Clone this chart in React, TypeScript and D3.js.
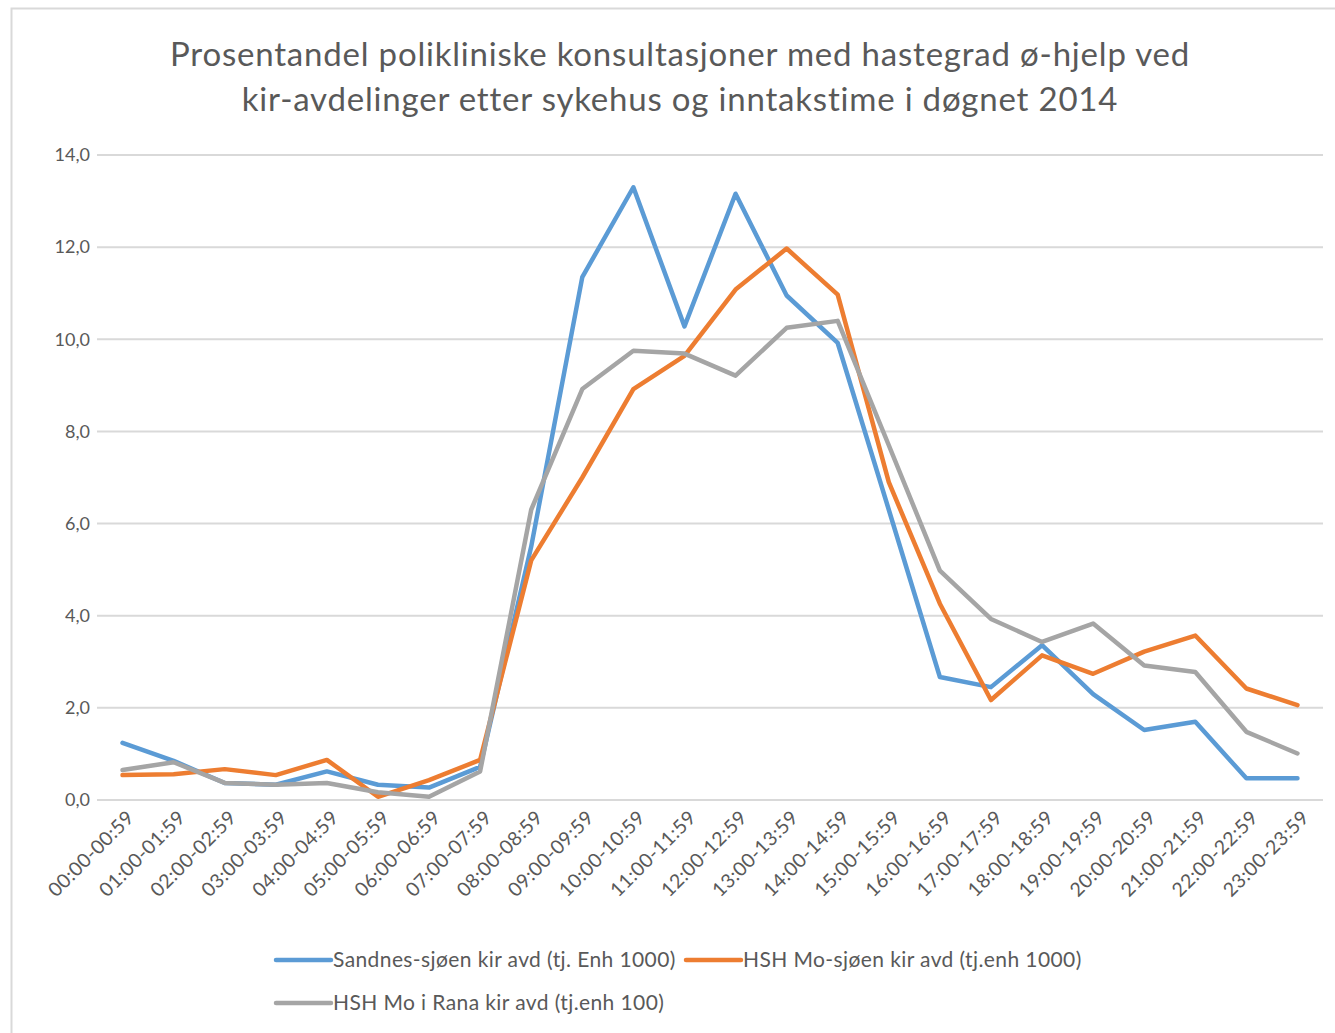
import { useEffect, useRef } from "react";
import * as d3 from "d3";

// hour-of-day intake buckets
const hours = [
  "00:00-00:59", "01:00-01:59", "02:00-02:59", "03:00-03:59", "04:00-04:59", "05:00-05:59",
  "06:00-06:59", "07:00-07:59", "08:00-08:59", "09:00-09:59", "10:00-10:59", "11:00-11:59",
  "12:00-12:59", "13:00-13:59", "14:00-14:59", "15:00-15:59", "16:00-16:59", "17:00-17:59",
  "18:00-18:59", "19:00-19:59", "20:00-20:59", "21:00-21:59", "22:00-22:59", "23:00-23:59",
];

const sandnessjoen = [
  1.24, 0.85, 0.37, 0.33, 0.62, 0.33, 0.27, 0.72, 5.5, 11.35, 13.3, 10.28,
  13.16, 10.95, 9.92, 6.3, 2.67, 2.45, 3.36, 2.3, 1.52, 1.7, 0.47, 0.47,
];
const hshMoSjoen = [
  0.54, 0.56, 0.67, 0.54, 0.87, 0.07, 0.43, 0.87, 5.2, 7.0, 8.92, 9.64,
  11.08, 11.97, 10.97, 6.9, 4.26, 2.17, 3.14, 2.74, 3.22, 3.57, 2.42, 2.06,
];
const hshMoIRana = [
  0.65, 0.82, 0.37, 0.33, 0.37, 0.17, 0.07, 0.62, 6.3, 8.92, 9.75, 9.69,
  9.21, 10.25, 10.4, 7.7, 4.98, 3.93, 3.43, 3.83, 2.92, 2.78, 1.48, 1.01,
];

const seriesNames = [
  "Sandnes-sjøen kir avd (tj. Enh 1000)",
  "HSH Mo-sjøen kir avd (tj.enh 1000)",
  "HSH Mo i Rana kir avd (tj.enh 100)",
];
const seriesColors = ["#5B9BD5", "#ED7D31", "#A5A5A5"];
const yTicks = [0, 2, 4, 6, 8, 10, 12, 14];

const titleLines = [
  "Prosentandel polikliniske konsultasjoner med hastegrad ø-hjelp ved",
  "kir-avdelinger etter sykehus og inntakstime i døgnet 2014",
];

const width = 1335;
const height = 1033;
const font = "Lato, 'Open Sans', sans-serif";
const textColor = "#595959";

export default function App() {
  const ref = useRef<SVGSVGElement>(null);

  useEffect(() => {
    const svg = d3.select(ref.current);
    svg.selectAll("*").remove();

    const margin = { top: 155, right: 12, bottom: 233, left: 97 };
    const innerW = width - margin.left - margin.right;
    const innerH = height - margin.top - margin.bottom;

    // chart frame
    svg.append("rect")
      .attr("x", 11.5).attr("y", 8.5)
      .attr("width", width).attr("height", height)
      .attr("fill", "white").attr("stroke", "#d9d9d9").attr("stroke-width", 2);

    svg.append("text")
      .attr("x", 680).attr("y", 66)
      .attr("text-anchor", "middle")
      .attr("font-family", font).attr("font-size", 33).attr("fill", textColor)
      .attr("letter-spacing", 0.8)
      .selectAll("tspan")
      .data(titleLines)
      .join("tspan")
      .attr("x", 680)
      .attr("dy", (_, i) => (i === 0 ? 0 : 45))
      .text((d) => d);

    const x = d3.scalePoint<string>().domain(hours).range([0, innerW]).padding(0.5);
    const y = d3.scaleLinear().domain([0, 14]).range([innerH, 0]);

    const g = svg.append("g").attr("transform", `translate(${margin.left},${margin.top})`);

    g.append("g")
      .selectAll("line")
      .data(yTicks)
      .join("line")
      .attr("x1", 0).attr("x2", innerW)
      .attr("y1", (d) => y(d)).attr("y2", (d) => y(d))
      .attr("stroke", "#d9d9d9").attr("stroke-width", 2);

    g.append("g")
      .selectAll("text")
      .data(yTicks)
      .join("text")
      .attr("x", -7).attr("y", (d) => y(d))
      .attr("dy", "0.35em")
      .attr("text-anchor", "end")
      .attr("font-family", font).attr("font-size", 18).attr("fill", textColor)
      .text((d) => d3.format(".1f")(d).replace(".", ","));

    g.append("g")
      .selectAll("text")
      .data(hours)
      .join("text")
      .attr("transform", (d) => `translate(${(x(d) ?? 0) + 8},${innerH + 14}) rotate(-45)`)
      .attr("dy", "0.35em")
      .attr("text-anchor", "end")
      .attr("font-family", font).attr("font-size", 19.5).attr("fill", textColor)
      .attr("letter-spacing", 0.4)
      .text((d) => d);

    const line = d3.line<number>()
      .x((_, i) => x(hours[i]) ?? 0)
      .y((d) => y(d));

    const allSeries = [sandnessjoen, hshMoSjoen, hshMoIRana];
    g.append("g")
      .selectAll("path")
      .data(allSeries)
      .join("path")
      .attr("d", (d) => line(d))
      .attr("fill", "none")
      .attr("stroke", (_, i) => seriesColors[i])
      .attr("stroke-width", 4.5)
      .attr("stroke-linejoin", "round")
      .attr("stroke-linecap", "round");

    // legend
    const legendPos = [
      { x: 276, y: 960 },
      { x: 686, y: 960 },
      { x: 276, y: 1003 },
    ];
    const legend = svg.append("g")
      .selectAll("g")
      .data(seriesNames)
      .join("g")
      .attr("transform", (_, i) => `translate(${legendPos[i].x},${legendPos[i].y})`);
    legend.append("line")
      .attr("x1", 0).attr("x2", 55)
      .attr("stroke", (_, i) => seriesColors[i])
      .attr("stroke-width", 4.5)
      .attr("stroke-linecap", "round");
    legend.append("text")
      .attr("x", 57)
      .attr("dy", "0.35em")
      .attr("font-family", font).attr("font-size", 21).attr("fill", textColor)
      .attr("letter-spacing", 0.4)
      .text((d) => d);
  }, []);

  return (
    <svg
      ref={ref}
      width={width}
      height={height}
      style={{ display: "block", position: "absolute", left: 0, top: 0 }}
    />
  );
}
